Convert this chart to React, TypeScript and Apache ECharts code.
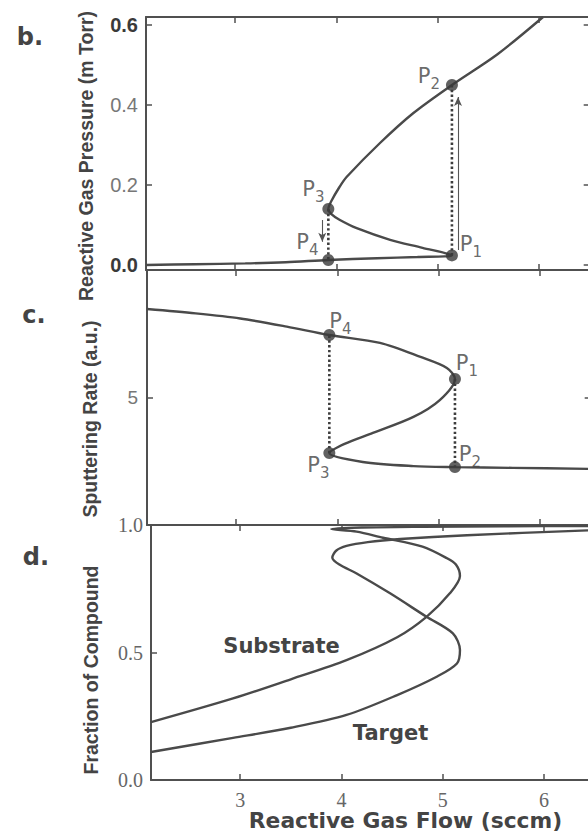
import { useEffect, useRef } from 'react';
import * as echarts from 'echarts';

// Axis ticks
const flowTicks = [3, 4, 5, 6];
const pressureTicks = [0, 0.2, 0.4, 0.6];
const rateTicks = [5];
const fractionTicks = [0, 0.5, 1];

// b. reactive gas pressure traced along the hysteresis loop
const pressureFlow = [2.12, 2.6, 3.1, 3.5, 3.92, 4.4, 4.8, 5.14, 4.85, 4.53, 4.2, 4.03, 3.95, 3.92, 3.95, 4.03, 4.1, 4.43, 4.76, 5.14, 5.59, 6.04];
const pressureValue = [0.0, 0.002, 0.004, 0.007, 0.0125, 0.017, 0.02, 0.024, 0.043, 0.063, 0.092, 0.113, 0.127, 0.14, 0.16, 0.195, 0.22, 0.305, 0.38, 0.45, 0.527, 0.62];

// c. sputtering rate along the same loop
const rateFlow = [2.12, 2.6, 3.04, 3.5, 3.92, 4.42, 4.82, 5.08, 5.16, 5.01, 4.75, 4.35, 4.07, 3.92, 4.25, 4.75, 5.16, 5.73, 6.5];
const rateValue = [8.47, 8.3, 8.1, 7.78, 7.45, 7.14, 6.59, 6.16, 5.73, 4.9, 4.24, 3.61, 3.18, 2.82, 2.47, 2.31, 2.27, 2.24, 2.2];

// d. fraction of compound on substrate and target
const substrateFlow = [2.12, 2.93, 3.5, 4.05, 4.55, 4.84, 5.07, 5.17, 5.13, 5.04, 4.8, 4.41, 4.15, 3.9, 4.2, 4.8, 5.6, 6.5];
const substrateValue = [0.227, 0.32, 0.395, 0.47, 0.56, 0.64, 0.732, 0.8, 0.845, 0.87, 0.915, 0.95, 0.974, 0.984, 0.99, 0.993, 0.995, 0.996];
const targetFlow = [2.12, 2.93, 3.5, 4.05, 4.55, 4.94, 5.14, 5.17, 5.1, 4.84, 4.48, 4.15, 3.98, 3.91, 3.95, 4.05, 4.26, 4.58, 5.24, 6.5];
const targetValue = [0.11, 0.165, 0.205, 0.255, 0.333, 0.405, 0.457, 0.51, 0.575, 0.64, 0.732, 0.81, 0.845, 0.872, 0.9, 0.918, 0.933, 0.945, 0.96, 0.98];

// Transition points P1..P4
const pointNames = ['1', '2', '3', '4'];
const pressurePointFlow = [5.14, 5.14, 3.92, 3.92];
const pressurePointValue = [0.024, 0.45, 0.14, 0.0125];
const ratePointFlow = [5.16, 5.16, 3.92, 3.92];
const ratePointValue = [5.73, 2.27, 2.82, 7.45];

// Jump arrows in panel b: [flow, from, to]
const jumpUp = [5.2, 0.0375, 0.42];
const jumpDown = [3.86, 0.1125, 0.058];

const X_MIN = 2.12;
const X_MAX = 6.5;
const PX_PER_FLOW = 101.3;
const PLOT_W = (X_MAX - X_MIN) * PX_PER_FLOW;

const INK = '#4a4a4a';
const AXIS = '#505050';

const zip = (xs: number[], ys: number[]) => xs.map((x, i) => [x, ys[i]]);

// label offsets (px) from each point's dot
const pOffsetsB: Record<string, [number, number]> = { '1': [19, -9], '2': [-23, -7], '3': [-15, -18], '4': [-21, -16] };
const pOffsetsC: Record<string, [number, number]> = { '1': [12, -13], '2': [15, -11], '3': [-11, 14], '4': [11, -12] };

const pRich = {
  p: { fontFamily: 'DejaVu Sans', fontSize: 21, verticalAlign: 'bottom', padding: [0, 0, 5, 0], color: '#444' },
  s: { fontFamily: 'DejaVu Sans', fontSize: 15, verticalAlign: 'bottom', color: '#444' },
};

function pointSeries(flow: number[], vals: number[], offsets: Record<string, [number, number]>, axis: number) {
  return {
    type: 'scatter',
    xAxisIndex: axis,
    yAxisIndex: axis,
    symbolSize: 12,
    z: 5,
    itemStyle: { color: '#3a3a3a' },
    data: flow.map((f, i) => ({
      value: [f, vals[i]],
      label: {
        show: true,
        position: 'inside',
        offset: offsets[pointNames[i]],
        formatter: `{p|P}{s|${pointNames[i]}}`,
        rich: pRich,
      },
    })),
  };
}

function dottedSeries(flow: number[], vals: number[], a: number, b: number, axis: number) {
  return {
    type: 'line',
    xAxisIndex: axis,
    yAxisIndex: axis,
    symbol: 'none',
    z: 3,
    lineStyle: { color: '#3d3d3d', width: 2.6, type: [2.4, 2.4] },
    data: [[flow[a], vals[a]], [flow[b], vals[b]]],
  };
}

function curveSeries(flow: number[], vals: number[], axis: number) {
  return {
    type: 'line',
    xAxisIndex: axis,
    yAxisIndex: axis,
    symbol: 'none',
    smooth: 0.3,
    z: 2,
    lineStyle: { color: INK, width: 2.4 },
    data: zip(flow, vals),
  };
}

function arrowSeries(arrow: number[], axis: number) {
  return {
    type: 'line',
    xAxisIndex: axis,
    yAxisIndex: axis,
    symbol: 'none',
    data: [],
    markLine: {
      silent: true,
      symbol: ['none', 'arrow'],
      symbolSize: [6, 9],
      label: { show: false },
      lineStyle: { color: '#555', width: 1.1, type: 'solid' },
      data: [[{ coord: [arrow[0], arrow[1]] }, { coord: [arrow[0], arrow[2]] }]],
    },
  };
}

function xAxisPair(gridIndex: number, showLabels: boolean) {
  const base = {
    type: 'value',
    gridIndex,
    min: X_MIN,
    max: X_MAX,
    splitLine: { show: false },
    axisLine: { show: true, onZero: false, lineStyle: { color: AXIS, width: 2 } },
    axisTick: { show: true, inside: true, length: 6, customValues: flowTicks, lineStyle: { color: AXIS, width: 1.5 } },
  };
  return [
    {
      ...base,
      position: 'bottom',
      axisLabel: {
        show: showLabels,
        customValues: flowTicks,
        margin: 12,
        lineHeight: 15,
        fontFamily: 'Liberation Serif',
        fontSize: 20,
        color: '#666',
      },
    },
    { ...base, position: 'top', axisLabel: { show: false } },
  ];
}

function yAxisPair(gridIndex: number, min: number, max: number, ticks: number[], label: any) {
  const base = {
    type: 'value',
    gridIndex,
    min,
    max,
    splitLine: { show: false },
    axisLine: { show: true, onZero: false, lineStyle: { color: AXIS, width: 2 } },
    axisTick: { show: true, inside: true, length: 6, customValues: ticks, lineStyle: { color: AXIS, width: 1.5 } },
  };
  return [
    { ...base, position: 'left', axisLabel: { customValues: ticks, ...label } },
    { ...base, position: 'right', axisLabel: { show: false } },
  ];
}

export default function App() {
  const ref = useRef<HTMLDivElement>(null);

  useEffect(() => {
    if (!ref.current) return;
    const chart = echarts.init(ref.current, undefined, { renderer: 'svg' });

    const axisTitle = (text: string, x: number, y: number) => ({
      type: 'text',
      x,
      y,
      rotation: Math.PI / 2,
      style: {
        text,
        fontFamily: 'Liberation Sans',
        fontWeight: 'bold',
        fontSize: 19.5,
        lineHeight: 20,
        fill: '#444',
        align: 'center',
        verticalAlign: 'middle',
      },
    });
    const plainText = (text: string, x: number, y: number, size: number, lineHeight = size) => ({
      type: 'text',
      x,
      y,
      style: {
        text,
        fontFamily: 'DejaVu Sans',
        fontWeight: 'bold',
        fontSize: size,
        lineHeight,
        fill: '#444',
        align: 'center',
        verticalAlign: 'middle',
      },
    });

    chart.setOption({
      animation: false,
      backgroundColor: '#fff',
      grid: [
        { left: 146, top: 17, width: PLOT_W, height: 253 },
        { left: 147, top: 270, width: PLOT_W, height: 255 },
        { left: 151, top: 525, width: PLOT_W, height: 255 },
      ],
      xAxis: [...xAxisPair(0, false), ...xAxisPair(1, false), ...xAxisPair(2, true)],
      yAxis: [
        ...yAxisPair(0, -0.0125, 0.62, pressureTicks, {
          margin: 8,
          formatter: (v: number) => (v === 0.2 || v === 0.4 ? `{l|${v.toFixed(1)}}` : `{d|${v.toFixed(1)}}`),
          rich: {
            l: { fontFamily: 'Liberation Sans', fontSize: 20, color: '#777' },
            d: { fontFamily: 'Liberation Sans', fontSize: 20, color: '#3a3a3a', fontWeight: 'bold' },
          },
        }),
        ...yAxisPair(1, 0, 10, rateTicks, {
          margin: 9,
          fontFamily: 'Liberation Sans Narrow, Liberation Sans',
          fontSize: 19,
          color: '#777',
        }),
        ...yAxisPair(2, 0, 1, fractionTicks, {
          margin: 8,
          fontFamily: 'Liberation Serif',
          fontSize: 20,
          color: '#666',
          formatter: (v: number) => v.toFixed(1),
        }),
      ],
      series: [
        // b
        curveSeries(pressureFlow, pressureValue, 0),
        dottedSeries(pressurePointFlow, pressurePointValue, 0, 1, 0),
        dottedSeries(pressurePointFlow, pressurePointValue, 2, 3, 0),
        arrowSeries(jumpUp, 0),
        arrowSeries(jumpDown, 0),
        pointSeries(pressurePointFlow, pressurePointValue, pOffsetsB, 0),
        // c
        curveSeries(rateFlow, rateValue, 2),
        dottedSeries(ratePointFlow, ratePointValue, 0, 1, 2),
        dottedSeries(ratePointFlow, ratePointValue, 2, 3, 2),
        pointSeries(ratePointFlow, ratePointValue, pOffsetsC, 2),
        // d
        curveSeries(substrateFlow, substrateValue, 4),
        curveSeries(targetFlow, targetValue, 4),
      ],
      graphic: [
        plainText('b.', 30, 36.7, 24),
        plainText('c.', 34, 314.7, 24),
        plainText('d.', 36, 556.7, 24),
        axisTitle('Reactive Gas Pressure (m Torr)', 86, 156),
        axisTitle('Sputtering Rate (a.u.)', 90, 419),
        axisTitle('Fraction of Compound', 91, 670),
        plainText('Substrate', 281.5, 645.5, 21),
        plainText('Target', 390.5, 733, 21),
        plainText('Reactive Gas Flow (sccm)', 405.5, 820.5, 21.8, 19),
      ],
    });

    return () => chart.dispose();
  }, []);

  return (
    <div style={{ position: 'fixed', left: 0, top: 0, width: 588, height: 832, overflow: 'hidden', background: '#fff' }}>
      <div ref={ref} style={{ width: 600, height: 832 }} />
    </div>
  );
}
